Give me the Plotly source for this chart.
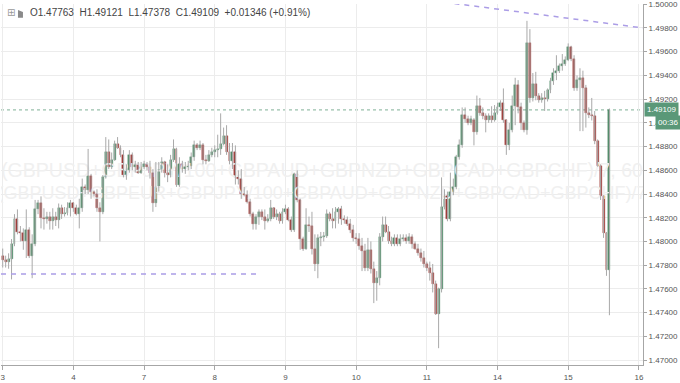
import plotly.graph_objects as go

# ---------------- data (hourly candles) ----------------
day_labels = ["3", "4", "7", "8", "9", "10", "11", "14", "15", "16"]
bars_per_day = 24

opens = [
    1.4788, 1.4784, 1.4783, 1.4785, 1.4798, 1.4819, 1.4808, 1.4807, 1.4800, 1.4810,
    1.4788, 1.4798, 1.4827, 1.4832, 1.4820, 1.4819, 1.4821, 1.4817, 1.4821, 1.4818,
    1.4828, 1.4823, 1.4824, 1.4828, 1.4832, 1.4828, 1.4823, 1.4828, 1.4846, 1.4843,
    1.4855, 1.4842, 1.4840, 1.4828, 1.4825, 1.4854, 1.4875, 1.4863, 1.4869, 1.4882,
    1.4879, 1.4873, 1.4856, 1.4860, 1.4873, 1.4863, 1.4865, 1.4858, 1.4863, 1.4865,
    1.4863, 1.4858, 1.4832, 1.4846, 1.4860, 1.4867, 1.4858, 1.4856, 1.4869, 1.4878,
    1.4848, 1.4865, 1.4861, 1.4863, 1.4864, 1.4871, 1.4881, 1.4879, 1.4881, 1.4869,
    1.4868, 1.4873, 1.4875, 1.4877, 1.4878, 1.4882, 1.4889, 1.4875, 1.4868, 1.4875,
    1.4854, 1.4853, 1.4840, 1.4839, 1.4833, 1.4823, 1.4815, 1.4821, 1.4825, 1.4821,
    1.4817, 1.4819, 1.4828, 1.4821, 1.4823, 1.4817, 1.4825, 1.4827, 1.4818, 1.4810,
    1.4857, 1.4835, 1.4802, 1.4794, 1.4814, 1.4813, 1.4794, 1.4781, 1.4803, 1.4804,
    1.4805, 1.4823, 1.4819, 1.4817, 1.4825, 1.4827, 1.4819, 1.4818, 1.4815, 1.4810,
    1.4803, 1.4802, 1.4796, 1.4792, 1.4778, 1.4793, 1.4777, 1.4765, 1.4769, 1.4804,
    1.4814, 1.4808, 1.4800, 1.4798, 1.4803, 1.4798, 1.4802, 1.4803, 1.4800, 1.4804,
    1.4798, 1.4794, 1.4790, 1.4786, 1.4781, 1.4778, 1.4773, 1.4764, 1.4739, 1.4760,
    1.4829, 1.4838, 1.4819, 1.4842, 1.4846, 1.4871, 1.4881, 1.4907, 1.4903, 1.4900,
    1.4902, 1.4892, 1.4914, 1.4908, 1.4906, 1.4902, 1.4906, 1.4902, 1.4908, 1.4913,
    1.4917, 1.4902, 1.4881, 1.4894, 1.4914, 1.4932, 1.4913, 1.4900, 1.4894, 1.4967,
    1.4921, 1.4933, 1.4923, 1.4919, 1.4921, 1.4920, 1.4928, 1.4935, 1.4942, 1.4944,
    1.4948, 1.4950, 1.4953, 1.4964, 1.4954, 1.4929, 1.4936, 1.4938, 1.4929, 1.4908,
    1.4907, 1.4906, 1.4885, 1.4864, 1.4838, 1.4807, 1.47763,
]

highs = [
    1.4794, 1.4788, 1.4790, 1.4802, 1.4823, 1.4827, 1.4813, 1.4811, 1.4827, 1.4812,
    1.4806, 1.4835, 1.4835, 1.4838, 1.4828, 1.4825, 1.4825, 1.4828, 1.4825, 1.4832,
    1.4831, 1.4829, 1.4833, 1.4835, 1.4833, 1.4831, 1.4836, 1.4853, 1.4848, 1.4878,
    1.4857, 1.4843, 1.4844, 1.4833, 1.4856, 1.4888, 1.4886, 1.4875, 1.4885, 1.4888,
    1.4881, 1.4877, 1.4865, 1.4877, 1.4875, 1.4868, 1.4867, 1.4867, 1.4868, 1.4867,
    1.4868, 1.4861, 1.4867, 1.4867, 1.4871, 1.4868, 1.4865, 1.4873, 1.4886, 1.4879,
    1.4871, 1.4868, 1.4867, 1.4868, 1.4875, 1.4885, 1.4883, 1.4885, 1.4883, 1.4873,
    1.4877, 1.4879, 1.4881, 1.4890, 1.4908, 1.4896, 1.4898, 1.4883, 1.4883, 1.4881,
    1.4860, 1.4861, 1.4846, 1.4843, 1.4836, 1.4825, 1.4823, 1.4827, 1.4827, 1.4827,
    1.4823, 1.4835, 1.4829, 1.4827, 1.4825, 1.4828, 1.4831, 1.4829, 1.4821, 1.4858,
    1.4860, 1.4836, 1.4804, 1.4828, 1.4821, 1.4825, 1.4806, 1.4806, 1.4808, 1.4808,
    1.4827, 1.4825, 1.4828, 1.4829, 1.4829, 1.4830, 1.4822, 1.4821, 1.4819, 1.4814,
    1.4807, 1.4807, 1.4803, 1.4798, 1.4803, 1.4800, 1.4783, 1.4775, 1.4807, 1.4821,
    1.4821, 1.4813, 1.4804, 1.4806, 1.4806, 1.4806, 1.4806, 1.4806, 1.4807, 1.4806,
    1.4800, 1.4798, 1.4794, 1.4792, 1.4783, 1.4783, 1.4781, 1.4767, 1.4761, 1.4854,
    1.4844, 1.4842, 1.4858, 1.4853, 1.4873, 1.4886, 1.4913, 1.4913, 1.4906, 1.4906,
    1.4904, 1.4923, 1.4921, 1.4913, 1.4908, 1.4908, 1.4914, 1.4915, 1.4917, 1.4919,
    1.4929, 1.4903, 1.4900, 1.4923, 1.4938, 1.4936, 1.4917, 1.4902, 1.4986, 1.4979,
    1.4942, 1.4943, 1.4925, 1.4925, 1.4927, 1.4929, 1.4938, 1.4946, 1.4957, 1.4950,
    1.4958, 1.4956, 1.4967, 1.4965, 1.4957, 1.4940, 1.4946, 1.4944, 1.4932, 1.4913,
    1.4921, 1.4910, 1.4886, 1.4865, 1.4839, 1.4808, 1.49121,
]

lows = [
    1.4778, 1.4778, 1.4777, 1.4768, 1.4796, 1.4806, 1.4800, 1.4793, 1.4786, 1.4786,
    1.4769, 1.4796, 1.4823, 1.4811, 1.4810, 1.4815, 1.4810, 1.4810, 1.4813, 1.4811,
    1.4819, 1.4821, 1.4822, 1.4821, 1.4825, 1.4822, 1.4811, 1.4825, 1.4840, 1.4840,
    1.4836, 1.4838, 1.4825, 1.4800, 1.4823, 1.4853, 1.4861, 1.4861, 1.4868, 1.4878,
    1.4871, 1.4854, 1.4852, 1.4858, 1.4860, 1.4858, 1.4857, 1.4857, 1.4861, 1.4860,
    1.4853, 1.4825, 1.4829, 1.4842, 1.4858, 1.4854, 1.4850, 1.4854, 1.4867, 1.4846,
    1.4846, 1.4858, 1.4857, 1.4860, 1.4861, 1.4868, 1.4877, 1.4877, 1.4865, 1.4865,
    1.4867, 1.4871, 1.4871, 1.4871, 1.4873, 1.4881, 1.4873, 1.4865, 1.4861, 1.4848,
    1.4848, 1.4836, 1.4838, 1.4832, 1.4821, 1.4810, 1.4810, 1.4814, 1.4818, 1.4810,
    1.4816, 1.4817, 1.4819, 1.4818, 1.4815, 1.4815, 1.4823, 1.4817, 1.4808, 1.4808,
    1.4833, 1.4793, 1.4792, 1.4793, 1.4808, 1.4789, 1.4775, 1.4769, 1.4796, 1.4800,
    1.4803, 1.4817, 1.4811, 1.4811, 1.4815, 1.4814, 1.4815, 1.4813, 1.4807, 1.4800,
    1.4798, 1.4793, 1.4775, 1.4775, 1.4775, 1.4773, 1.4748, 1.4750, 1.4763, 1.4800,
    1.4807, 1.4798, 1.4796, 1.4796, 1.4796, 1.4796, 1.4800, 1.4798, 1.4798, 1.4794,
    1.4793, 1.4788, 1.4783, 1.4778, 1.4775, 1.4767, 1.4757, 1.4738, 1.4710, 1.4757,
    1.4827, 1.4817, 1.4817, 1.4839, 1.4844, 1.4869, 1.4879, 1.4900, 1.4898, 1.4898,
    1.4881, 1.4890, 1.4906, 1.4903, 1.4892, 1.4900, 1.4900, 1.4901, 1.4907, 1.4910,
    1.4900, 1.4873, 1.4877, 1.4892, 1.4898, 1.4908, 1.4894, 1.4892, 1.4890, 1.4917,
    1.4918, 1.4919, 1.4917, 1.4917, 1.4910, 1.4918, 1.4925, 1.4932, 1.4936, 1.4942,
    1.4944, 1.4948, 1.4952, 1.4952, 1.4927, 1.4927, 1.4893, 1.4893, 1.4896, 1.4904,
    1.4902, 1.4882, 1.4863, 1.4835, 1.4803, 1.4771, 1.47378,
]

closes = [
    1.4784, 1.4783, 1.4785, 1.4798, 1.4819, 1.4808, 1.4807, 1.4800, 1.4810, 1.4788,
    1.4798, 1.4827, 1.4832, 1.4820, 1.4819, 1.4821, 1.4817, 1.4821, 1.4818, 1.4828,
    1.4823, 1.4824, 1.4828, 1.4832, 1.4828, 1.4823, 1.4828, 1.4846, 1.4843, 1.4855,
    1.4842, 1.4840, 1.4828, 1.4825, 1.4854, 1.4875, 1.4863, 1.4869, 1.4882, 1.4879,
    1.4873, 1.4856, 1.4860, 1.4873, 1.4863, 1.4865, 1.4858, 1.4863, 1.4865, 1.4863,
    1.4858, 1.4832, 1.4846, 1.4860, 1.4867, 1.4858, 1.4856, 1.4869, 1.4878, 1.4848,
    1.4865, 1.4861, 1.4863, 1.4864, 1.4871, 1.4881, 1.4879, 1.4881, 1.4869, 1.4868,
    1.4873, 1.4875, 1.4877, 1.4878, 1.4882, 1.4889, 1.4875, 1.4868, 1.4875, 1.4854,
    1.4853, 1.4840, 1.4839, 1.4833, 1.4823, 1.4815, 1.4821, 1.4825, 1.4821, 1.4817,
    1.4819, 1.4828, 1.4821, 1.4823, 1.4817, 1.4825, 1.4827, 1.4818, 1.4810, 1.4857,
    1.4835, 1.4802, 1.4794, 1.4814, 1.4813, 1.4794, 1.4781, 1.4803, 1.4804, 1.4805,
    1.4823, 1.4819, 1.4817, 1.4825, 1.4827, 1.4819, 1.4818, 1.4815, 1.4810, 1.4803,
    1.4802, 1.4796, 1.4792, 1.4778, 1.4793, 1.4777, 1.4765, 1.4769, 1.4804, 1.4814,
    1.4808, 1.4800, 1.4798, 1.4803, 1.4798, 1.4802, 1.4803, 1.4800, 1.4804, 1.4798,
    1.4794, 1.4790, 1.4786, 1.4781, 1.4778, 1.4773, 1.4764, 1.4739, 1.4760, 1.4829,
    1.4838, 1.4819, 1.4842, 1.4846, 1.4871, 1.4881, 1.4907, 1.4903, 1.4900, 1.4903,
    1.4892, 1.4914, 1.4908, 1.4906, 1.4902, 1.4906, 1.4902, 1.4908, 1.4913, 1.4917,
    1.4902, 1.4881, 1.4894, 1.4914, 1.4932, 1.4913, 1.4900, 1.4894, 1.4967, 1.4921,
    1.4933, 1.4923, 1.4919, 1.4921, 1.4920, 1.4928, 1.4935, 1.4942, 1.4944, 1.4948,
    1.4950, 1.4953, 1.4964, 1.4954, 1.4929, 1.4936, 1.4938, 1.4929, 1.4908, 1.4907,
    1.4906, 1.4885, 1.4864, 1.4838, 1.4807, 1.47763, 1.49109,
]

price_ticks = [1.470, 1.472, 1.474, 1.476, 1.478, 1.480, 1.482, 1.484, 1.486,
               1.488, 1.490, 1.492, 1.494, 1.496, 1.498, 1.500]

header_text = ("O1.47763\u00a0\u00a0H1.49121\u00a0\u00a0L1.47378\u00a0\u00a0"
               "C1.49109\u00a0\u00a0+0.01346\u00a0(+0.91%)")
watermark_1 = "(GBPUSD+GBPJPY/100+GBPAUD+GBPNZD+GBPCAD+GBPCHF)/7, 60"
watermark_2 = "(GBPUSD+GBPEUR+GBPJPY/100+GBPAUD+GBPNZD+GBPCAD+GBPCHF)/7"
last_price = 1.49109
countdown = "00:36"
support_level = 1.47725
trend_start = (150, 1.50017)
trend_end = (217.4, 1.49800)

# ---------------- styling ----------------
UP = "#4e8a67"
DOWN = "#9e3734"
WICK = "#a9a9a9"
GRID = "#ececec"
AXIS = "#a6a6a6"
TEXT = "#555555"
TAG = "#5a9878"
PURPLE = "#ab9de6"
WATER = "#f0f0f0"
FONT = "Liberation Sans, Arial, sans-serif"

n = min(len(opens), len(highs), len(lows), len(closes))
idx = list(range(n))
x_min, x_max = -0.58, 217.4
y_min, y_max = 1.469583, 1.50002

wx, wy = [], []
for i in idx:
    wx += [i, i, None]
    wy += [lows[i], highs[i], None]

body_base = [min(opens[i], closes[i]) for i in idx]
body_h = [max(abs(closes[i] - opens[i]), 0.00006) for i in idx]
body_col = [UP if closes[i] >= opens[i] else DOWN for i in idx]

fig = go.Figure()

# watermark (below candles)
mid_x = (x_min + x_max) / 2
fig.add_trace(go.Scatter(
    x=[mid_x], y=[1.48583], mode="text", text=[watermark_1],
    textfont=dict(size=19.5, color=WATER, family=FONT),
    hoverinfo="skip", cliponaxis=True))
fig.add_trace(go.Scatter(
    x=[mid_x], y=[1.48400], mode="text", text=[watermark_2],
    textfont=dict(size=18, color=WATER, family=FONT),
    hoverinfo="skip", cliponaxis=True))

fig.add_trace(go.Scatter(x=wx, y=wy, mode="lines",
                         line=dict(color=WICK, width=1), hoverinfo="skip"))
fig.add_trace(go.Bar(x=idx, y=body_h, base=body_base, width=0.66,
                     marker=dict(color=body_col, line=dict(color=body_col, width=0.4)),
                     hoverinfo="skip"))

shapes = [
    dict(type="line", xref="x", yref="y", x0=x_min, x1=x_max, y0=last_price, y1=last_price,
         line=dict(color="#7fb096", width=1, dash="dot"), layer="below"),
    dict(type="line", xref="x", yref="y", x0=x_min, x1=87, y0=support_level, y1=support_level,
         line=dict(color=PURPLE, width=1.5, dash="5px,5px")),
    dict(type="line", xref="x", yref="y", x0=trend_start[0], y0=trend_start[1],
         x1=trend_end[0], y1=trend_end[1],
         line=dict(color=PURPLE, width=1.5, dash="5px,5px")),
    # small legend icon
    dict(type="path", xref="paper", yref="paper",
         path="M %f %f L %f %f L %f %f L %f %f Z" % (17/643, 1-6/365, 22/643, 1-8/365,
                                                     22/643, 1-14/365, 17/643, 1-14/365),
         fillcolor="#8a8a8a", line=dict(width=0)),
]

annotations = [
    dict(xref="paper", yref="paper", x=4/643, y=1-9/365, xanchor="left", yanchor="middle",
         text="\u229e", showarrow=False, font=dict(size=10, color="#9a9a9a", family="DejaVu Sans")),
    dict(xref="paper", yref="paper", x=27/643, y=1-9/365, xanchor="left", yanchor="middle",
         text=header_text, showarrow=False, font=dict(size=10, color="#444444", family=FONT)),
    dict(xref="paper", yref="y", x=1, y=last_price, xanchor="left", yanchor="middle",
         xshift=1, text="%.5f" % last_price, showarrow=False,
         bgcolor=TAG, borderpad=2, font=dict(size=8, color="white", family=FONT)),
    dict(xref="paper", yref="y", x=1, y=1.49005, xanchor="left", yanchor="middle",
         xshift=12, text=countdown, showarrow=False,
         bgcolor=TAG, borderpad=2, font=dict(size=8, color="white", family=FONT)),
]

fig.update_layout(
    width=680, height=383,
    margin=dict(l=0, r=37, t=0, b=18),
    paper_bgcolor="white", plot_bgcolor="white",
    showlegend=False, barmode="overlay", bargap=0,
    font=dict(family=FONT, color=TEXT, size=8),
    shapes=shapes, annotations=annotations,
    xaxis=dict(range=[x_min, x_max],
               tickvals=[k * bars_per_day for k in range(len(day_labels))],
               ticktext=day_labels, ticklabeloverflow="allow",
               showgrid=True, gridcolor=GRID, gridwidth=1, zeroline=False,
               showline=True, linecolor=AXIS, linewidth=1,
               ticks="outside", ticklen=4, tickcolor=AXIS,
               tickfont=dict(size=8, color=TEXT), fixedrange=True),
    yaxis=dict(side="right", range=[y_min, y_max],
               tickvals=price_ticks, tickformat=".5f", ticklabeloverflow="allow",
               showgrid=True, gridcolor=GRID, gridwidth=1, zeroline=False,
               showline=True, linecolor=AXIS, linewidth=1,
               ticks="outside", ticklen=3, tickcolor=AXIS,
               tickfont=dict(size=8, color=TEXT), fixedrange=True),
)

fig.write_html("out.html", config={"displayModeBar": False},
               post_script="document.body.style.margin='0px';")
